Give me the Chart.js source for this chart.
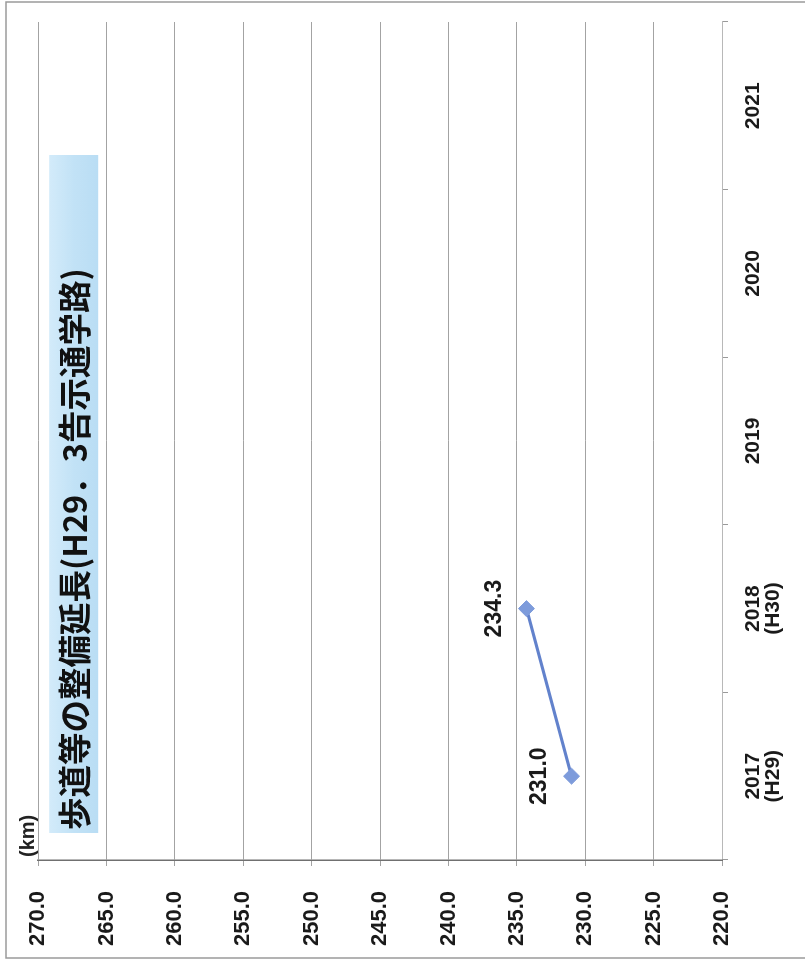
<!DOCTYPE html>
<html><head><meta charset="utf-8">
<script src="https://cdn.jsdelivr.net/npm/chart.js@4"></script>
<style>
html,body{margin:0;padding:0;background:#fff;width:805px;height:966px;overflow:hidden;}
#wrap{position:absolute;left:0;top:0;width:966px;height:805px;transform-origin:0 0;transform:translate(0,966px) rotate(-90deg);}
</style></head><body>
<div id="wrap"><canvas id="c" width="966" height="805"></canvas></div>
<script>
// ---- data ----
const years = ['2017', '2018', '2019', '2020', '2021'];
const eraLabels = ['(H29)', '(H30)', '', '', ''];
const lengthKm = [231.0, 234.3, null, null, null];
const valueMin = 220, valueMax = 270, valueStep = 5;
const titleText = '歩道等の整備延長(H29．3告示通学路)';
const unitText = '(km)';

const categoryLabels = years.map((y, i) => eraLabels[i] ? [y, eraLabels[i]] : y);
const narrow = "'Liberation Sans Narrow','Liberation Sans',Arial,sans-serif";

const decorPlugin = {
  id: 'decor',
  beforeDatasetsDraw(chart) {
    const ctx = chart.ctx, a = chart.chartArea;
    ctx.save();
    const x0 = a.left + 27, x1 = a.left + 705, y0 = a.top + 11, y1 = a.top + 60;
    const g = ctx.createLinearGradient(0, y0, 0, y1);
    g.addColorStop(0, '#d3ebfa');
    g.addColorStop(0.5, '#c2e2f6');
    g.addColorStop(1, '#b9ddf4');
    ctx.fillStyle = g;
    ctx.fillRect(x0, y0, x1 - x0, y1 - y0);
    ctx.fillStyle = '#111';
    ctx.font = "bold 32.5px 'Noto Sans CJK JP', sans-serif";
    ctx.textAlign = 'left';
    ctx.textBaseline = 'middle';
    ctx.fillText(titleText, x0 + 3, (y0 + y1) / 2 + 1);
    ctx.restore();
  },
  afterDraw(chart) {
    const ctx = chart.ctx, a = chart.chartArea;
    ctx.save();
    ctx.fillStyle = '#222';
    ctx.font = "bold 20px " + narrow;
    ctx.textAlign = 'left';
    ctx.textBaseline = 'middle';
    ctx.fillText(unitText, a.left + 3, a.top - 10);
    ctx.strokeStyle = '#9a9a9a';
    ctx.lineWidth = 1.5;
    ctx.strokeRect(8, 6, 956, 820);
    ctx.restore();
  }
};

const dataLabelPlugin = {
  id: 'dl',
  afterDatasetsDraw(chart) {
    const ctx = chart.ctx, meta = chart.getDatasetMeta(0);
    ctx.save();
    ctx.font = "bold 23px 'Liberation Sans', Arial, sans-serif";
    ctx.fillStyle = '#1a1a1a';
    ctx.textAlign = 'center';
    ctx.textBaseline = 'middle';
    meta.data.forEach((pt, i) => {
      const v = lengthKm[i];
      if (v == null) return;
      ctx.fillText(v.toFixed(1), pt.x, pt.y - 32);
    });
    ctx.restore();
  }
};

new Chart(document.getElementById('c'), {
  type: 'line',
  data: {
    labels: categoryLabels,
    datasets: [{
      data: lengthKm,
      borderColor: '#6282cc',
      borderWidth: 3,
      pointStyle: 'rectRot',
      pointRadius: 8,
      pointBackgroundColor: '#7d9bdb',
      pointBorderColor: '#7d9bdb',
      pointBorderWidth: 1,
      tension: 0,
      spanGaps: false
    }]
  },
  options: {
    responsive: false,
    animation: false,
    events: [],
    layout: { autoPadding: false, padding: { left: 0, right: 22, top: 33, bottom: 0 } },
    plugins: { legend: { display: false }, tooltip: { enabled: false }, title: { display: false } },
    scales: {
      x: {
        offset: true,
        grid: { display: true, drawOnChartArea: false, drawTicks: true, tickLength: 6, offset: true, color: '#9a9a9a' },
        border: { display: true, color: '#b8b8b8', width: 1 },
        ticks: { color: '#1a1a1a', padding: 15, maxRotation: 0, font: { family: narrow, size: 21, weight: 'bold', lineHeight: 0.95 } },
        afterFit(scale) { scale.height = 83; }
      },
      y: {
        min: valueMin, max: valueMax,
        ticks: { stepSize: valueStep, color: '#1a1a1a', padding: 25, font: { family: narrow, size: 22, weight: 'bold' },
                 callback: v => Number(v).toFixed(1) },
        grid: { color: '#a3a3a3', lineWidth: 1, drawTicks: true, tickLength: 6 },
        border: { display: true, color: '#707070', width: 1.5 },
        afterFit(scale) { scale.width = 106; }
      }
    }
  },
  plugins: [decorPlugin, dataLabelPlugin]
});
</script>
</body></html>
